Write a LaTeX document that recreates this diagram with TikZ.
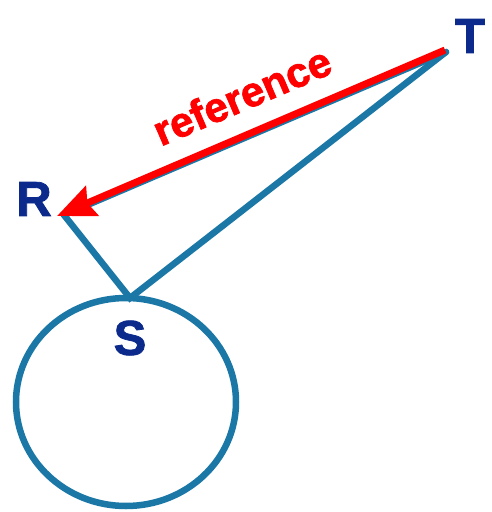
\documentclass[tikz,border=0pt]{standalone}
\usepackage{fontspec}
\setmainfont{Liberation Sans}
\newfontfamily\heavyfont[FakeBold=1.6]{Liberation Sans Bold}
\usetikzlibrary{arrows.meta}
\definecolor{lineblue}{HTML}{1A77A6}
\definecolor{labelblue}{HTML}{0B2A8C}
\definecolor{arrowred}{HTML}{FF0000}
\tikzset{
  geo/.style={draw=lineblue, line width=6.5pt, line cap=round},
  ptlabel/.style={text=labelblue, font=\heavyfont\fontsize{49}{49}\selectfont, inner sep=0pt},
  refarrow/.style={draw=arrowred, line width=7pt, -{Stealth[length=38pt, width=32pt, inset=5pt]}},
  reflabel/.style={text=arrowred, font=\heavyfont\fontsize{42}{42}\selectfont, inner sep=0pt}
}
\begin{document}
\begin{tikzpicture}[x=1pt,y=-1pt]
\useasboundingbox[fill=white] (0,0) rectangle (491,512);
\coordinate (pT) at (446,52);
\coordinate (pR) at (64,215);
\coordinate (pS) at (130,298);
\coordinate (pRtip) at (57,216);
\coordinate (pTred) at (445,50);
\coordinate (cC) at (126,402);
\draw[geo] (cC) ellipse [x radius=110, y radius=104];
\draw[geo] (pT) -- (pR);
\draw[geo] (pR) -- (pS) -- (pT);
\draw[refarrow] (pTred) -- node[reflabel, sloped, above=19pt, pos=0.485] (lab) {reference} (pRtip);
\node[ptlabel] (R) at (34,199) {R};
\node[ptlabel] (T) at (470,36) {T};
\node[ptlabel] (S) at (130,338) {S};
\end{tikzpicture}
\end{document}
